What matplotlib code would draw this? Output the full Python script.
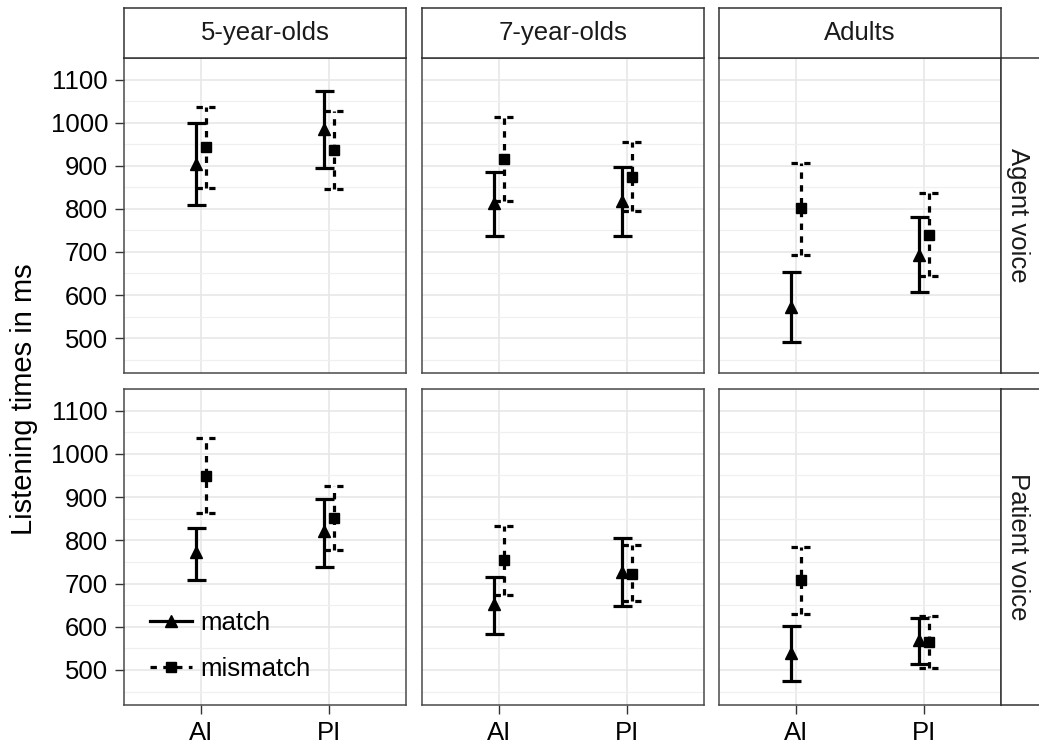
import matplotlib
matplotlib.use("Agg")
import matplotlib.pyplot as plt
from matplotlib.lines import Line2D
import numpy as np

plt.rcParams['font.family'] = ['Liberation Sans', 'DejaVu Sans']

# ---------------- data ----------------
groups = ["5-year-olds", "7-year-olds", "Adults"]
voices = ["Agent voice", "Patient voice"]
conditions = ["AI", "PI"]

# order: [voice][group][condition]
match_mean = [[[905, 985], [814, 819], [573, 693]],
              [[772, 821], [652, 727], [540, 569]]]
match_lo = [[[808, 895], [737, 737], [492, 607]],
            [[708, 738], [583, 648], [475, 514]]]
match_hi = [[[999, 1074], [885, 896], [653, 780]],
            [[829, 896], [716, 806], [602, 621]]]

mismatch_mean = [[[943, 936], [916, 875], [802, 739]],
                 [[949, 851], [755, 723], [708, 565]]]
mismatch_lo = [[[849, 847], [817, 794], [693, 644]],
               [[862, 778], [674, 659], [630, 504]]]
mismatch_hi = [[[1036, 1027], [1013, 956], [907, 836]],
               [[1036, 925], [833, 788], [785, 625]]]

y_ticks = [500, 600, 700, 800, 900, 1000, 1100]
y_label = "Listening times in ms"
legend_labels = ["match", "mismatch"]

# ---------------- layout ----------------
W, H = 1039, 743
fig = plt.figure(figsize=(W / 100, H / 100), dpi=100)

col_left = [124, 422, 719]
col_w = 282
row_top = [58, 389]
row_h = [315, 316]
FS = 18.5
border_col = '#4a4a4a'
dash = (0, (2, 2))
lw = 2.3
dodge = 0.037
cap = 0.075


def fig_rect(x0, y0, w, h):
    return [x0 / W, (H - y0 - h) / H, w / W, h / H]


axes = []
for r in range(2):
    for c in range(3):
        ax = fig.add_axes(fig_rect(col_left[c], row_top[r], col_w, row_h[r]))
        axes.append(ax)
        ax.set_xlim(0.4, 2.6)
        ax.set_ylim(419, 1134)
        ax.set_yticks(y_ticks)
        ax.set_yticks([v + 50 for v in [400] + y_ticks], minor=True)
        ax.set_xticks([1, 2])
        ax.set_xticklabels(conditions)
        ax.grid(True, which='major', color='#E6E6E6', lw=1.1, zorder=0)
        ax.grid(True, which='minor', axis='y', color='#F0F0F0', lw=0.9, zorder=0)
        ax.set_axisbelow(True)
        for s in ax.spines.values():
            s.set_color(border_col)
            s.set_linewidth(1.1)
        ax.tick_params(which='minor', length=0)
        ax.tick_params(which='major', length=6.5, width=1.0, color='#333333',
                       labelsize=FS, pad=5, labelcolor='black')
        if c != 0:
            ax.tick_params(axis='y', which='both', left=False, labelleft=False)
        if r != 1:
            ax.tick_params(axis='x', which='both', bottom=False, labelbottom=False)

        xs = np.arange(1, len(conditions) + 1)
        # match
        xm = xs - dodge
        mm = np.array(match_mean[r][c])
        ml = np.array(match_lo[r][c])
        mh = np.array(match_hi[r][c])
        ax.vlines(xm, ml, mh, color='black', lw=lw, zorder=3)
        ax.hlines(ml, xm - cap, xm + cap, color='black', lw=lw, zorder=3)
        ax.hlines(mh, xm - cap, xm + cap, color='black', lw=lw, zorder=3)
        ax.plot(xm, mm, ls='none', marker='^', ms=9, color='black', zorder=4)
        # mismatch
        xx = xs + dodge
        sm = np.array(mismatch_mean[r][c])
        sl = np.array(mismatch_lo[r][c])
        sh = np.array(mismatch_hi[r][c])
        ax.vlines(xx, sl, sh, color='black', lw=lw, linestyles=[dash], zorder=5)
        ax.hlines(sl, xx - cap, xx + cap, color='black', lw=lw, linestyles=[dash], zorder=5)
        ax.hlines(sh, xx - cap, xx + cap, color='black', lw=lw, linestyles=[dash], zorder=5)
        ax.plot(xx, sm, ls='none', marker='s', ms=6.5, color='black', zorder=6)

# ---------------- strips ----------------
for c in range(3):
    sax = fig.add_axes(fig_rect(col_left[c], 8, col_w, 50))
    sax.set_xticks([]); sax.set_yticks([])
    for s in sax.spines.values():
        s.set_color('#333333'); s.set_linewidth(1.1)
    sax.text(0.5, 0.5, groups[c], ha='center', va='center', fontsize=FS,
             transform=sax.transAxes, color='#1a1a1a')

for r in range(2):
    sax = fig.add_axes(fig_rect(1001, row_top[r], 60, row_h[r]))
    sax.set_xticks([]); sax.set_yticks([])
    for s in sax.spines.values():
        s.set_color('#333333'); s.set_linewidth(1.1)
    fig.text(1018 / W, (H - (row_top[r] + row_h[r] / 2)) / H, voices[r],
             rotation=270, ha='center', va='center', fontsize=FS, color='#1a1a1a')

# y label
fig.text(24 / W, (H - 399) / H, y_label, rotation=90, ha='center', va='center',
         fontsize=21, color='black')

# legend in bottom-left panel
handles = [Line2D([], [], color='black', lw=lw, marker='^', ms=9),
           Line2D([], [], color='black', lw=lw, ls=dash, marker='s', ms=6.5)]
axes[3].legend(handles, legend_labels, loc='center left',
               bbox_to_anchor=(0.092, (705 - 646) / 316), frameon=False,
               fontsize=FS, handlelength=1.63, handletextpad=0.35,
               labelspacing=0.82, borderpad=0, borderaxespad=0, numpoints=1)

fig.savefig("out.png", dpi=100)
